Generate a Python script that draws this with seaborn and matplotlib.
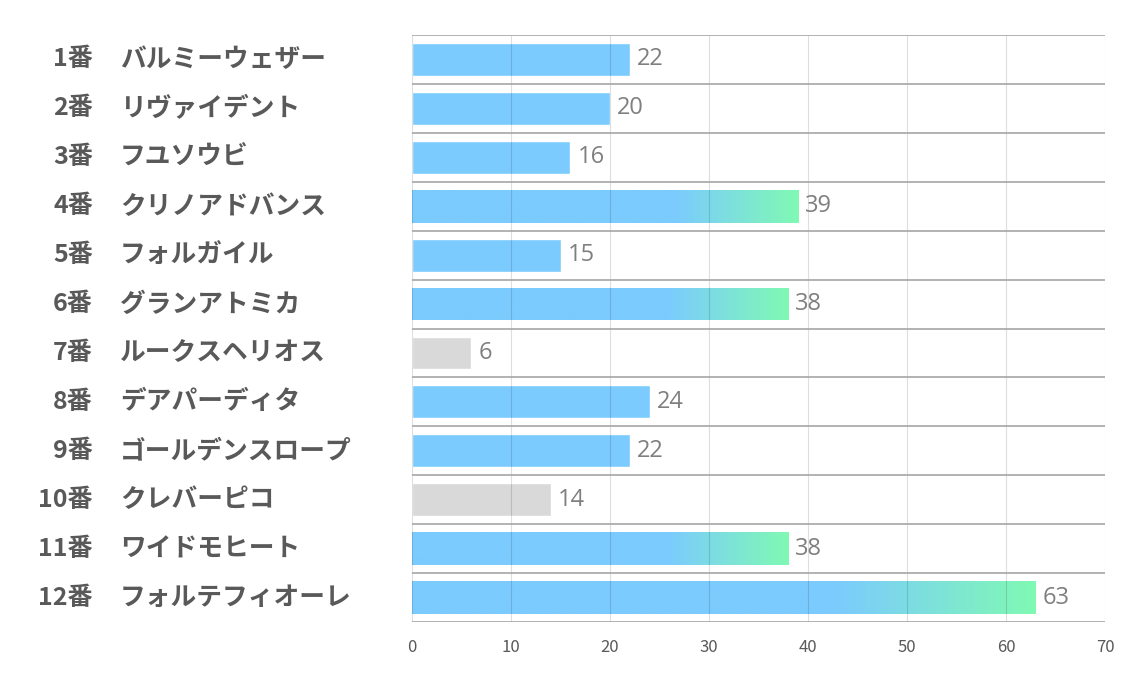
import numpy as np
import matplotlib
matplotlib.use("Agg")
import matplotlib.pyplot as plt
import matplotlib.colors as mcolors
from matplotlib.transforms import blended_transform_factory
import seaborn as sns

numbers = ["1番", "2番", "3番", "4番", "5番", "6番", "7番", "8番", "9番", "10番", "11番", "12番"]
names = ["バルミーウェザー", "リヴァイデント", "フユソウビ", "クリノアドバンス", "フォルガイル",
         "グランアトミカ", "ルークスヘリオス", "デアパーディタ", "ゴールデンスロープ", "クレバーピコ",
         "ワイドモヒート", "フォルテフィオーレ"]
values = [22, 20, 16, 39, 15, 38, 6, 24, 22, 14, 38, 63]
styles = ["blue", "blue", "blue", "grad", "blue", "grad", "gray", "blue", "blue", "gray", "grad", "grad"]
x_ticks = [0, 10, 20, 30, 40, 50, 60, 70]

BLUE = "#7BCBFE"
GREEN = "#80F9B4"
GRAY = "#D9D9D9"
style_color = {"blue": BLUE, "grad": BLUE, "gray": GRAY}

sns.set_theme(style="white")
plt.rcParams['font.family'] = ['Noto Sans CJK JP', 'DejaVu Sans']

fig = plt.figure(figsize=(11.34, 6.8), dpi=100)
ax = fig.add_axes([412/1134, 1 - 622/680, 693/1134, 587/680])

labels = [f"{n} {m}" for n, m in zip(numbers, names)]
palette = [style_color[s] for s in styles]
sns.barplot(x=values, y=labels, hue=labels, palette=palette, legend=False,
            orient="h", width=0.67, saturation=1, ax=ax, zorder=1)

ax.set_xlim(0, 70)
ax.set_ylim(len(values) - 0.5, -0.5)

# gradient overlay
b = np.array(mcolors.to_rgb(BLUE))
g = np.array(mcolors.to_rgb(GREEN))
t = np.linspace(0, 1, 256)
t0 = 0.68
frac = np.clip((t - t0) / (1 - t0), 0, 1)
grad = (b[None, :] * (1 - frac[:, None]) + g[None, :] * frac[:, None])[None, :, :]
for patch, st in zip(ax.patches, styles):
    if st == "grad":
        x0, y0 = patch.get_x(), patch.get_y()
        w, h = patch.get_width(), patch.get_height()
        im = ax.imshow(grad, extent=[x0, x0 + w, y0 + h, y0], aspect="auto",
                       zorder=1.1, interpolation="bilinear")
        im.set_clip_path(patch)

# grids
ax.set_xticks(x_ticks)
ax.set_yticks(np.arange(-0.5, len(values), 1.0), minor=True)
ax.set_yticks([])
ax.set_axisbelow(False)
ax.grid(axis="x", which="major", color="black", alpha=0.13, linewidth=0.8, zorder=2.5)
ax.grid(axis="y", which="minor", color="#A6A6A6", alpha=1.0, linewidth=1.2, zorder=2.5)
for s in ax.spines.values():
    s.set_visible(False)
ax.tick_params(axis="x", which="both", length=0, pad=12, labelsize=12, labelcolor="#595959")
ax.tick_params(axis="y", which="both", length=0)
ax.set_xlabel("")
ax.set_ylabel("")

# value labels
for i, v in enumerate(values):
    ax.annotate(str(v), xy=(v, i), xytext=(5, 0), textcoords="offset points",
                ha="left", va="center", fontsize=17, color="#7F7F7F",
                family=["Open Sans", "DejaVu Sans"], zorder=3)

# row labels
tr = blended_transform_factory(fig.transFigure, ax.transData)
for i, (n, m) in enumerate(zip(numbers, names)):
    ax.text(93/1134, i, n, transform=tr, ha="right", va="center", fontsize=18,
            fontweight="bold", color="#595959", clip_on=False)
    ax.text(120/1134, i, m, transform=tr, ha="left", va="center", fontsize=18.5,
            fontweight="bold", color="#595959", clip_on=False)

fig.savefig("out.png", dpi=100, facecolor="white")
